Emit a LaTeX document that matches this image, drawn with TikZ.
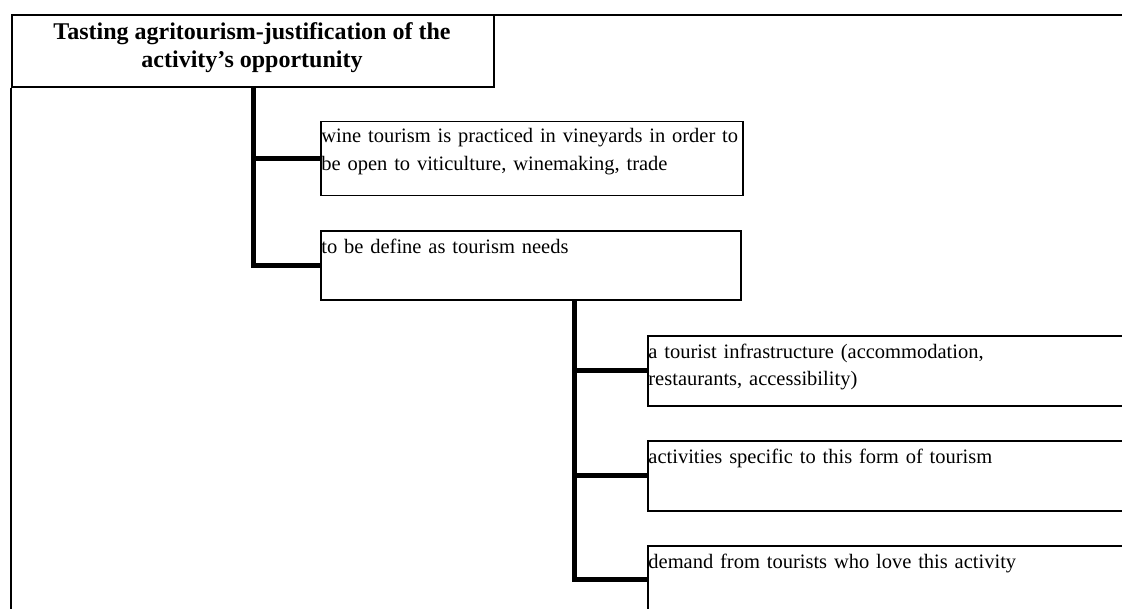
\documentclass[tikz,border=0pt]{standalone}
\usepackage{fontspec}
\setmainfont{Liberation Serif}
\begin{document}
\begin{tikzpicture}[x=0.5pt,y=-0.5pt,
  box/.style={draw, line width=0.75pt, rectangle, inner sep=0pt, anchor=north west},
  txt/.style={anchor=base west, inner sep=0pt, align=left, text width=250pt, font=\fontsize{10.25}{13.5}\selectfont},
  trunk/.style={line width=2.5pt, line join=miter},
  frame/.style={line width=0.75pt}
]
\useasboundingbox (0,0) rectangle (1122,609);
\clip (0,0) rectangle (1122,609);
% boxes
\node[box, line width=1pt, minimum width=241pt, minimum height=36pt] (title) at (11,14) {};
\node[box, minimum width=211pt, minimum height=37pt] (b1) at (320,121) {};
\node[box, minimum width=210pt, minimum height=34.5pt] (b2) at (320,230) {};
\node[box, minimum width=241.5pt, minimum height=35pt] (b3) at (647,335) {};
\node[box, minimum width=241.5pt, minimum height=35pt] (b4) at (647,440) {};
\node[box, minimum width=241.5pt, minimum height=34pt] (b5) at (647,545) {};
% frame
\coordinate (fbl) at (11,615);
\coordinate (ftr) at (1130,15);
\draw[frame] (title.south west) -- (fbl);
\draw[frame] (title.north east |- ftr) -- (ftr);
% texts
\node[anchor=base, align=center, inner sep=0pt, font=\fontsize{12}{14}\selectfont\bfseries] (tt) at (252,68) {Tasting agritourism-justification of the\\activity’s opportunity};
\node[txt] (t1) at (321,143) {wine tourism is practiced in vineyards in order to\\be open to viticulture, winemaking, trade};
\node[txt] (t2) at (321,253) {to be define as tourism needs};
\node[txt] (t3) at (648,358) {a tourist infrastructure (accommodation,\\restaurants, accessibility)};
\node[txt] (t4) at (648,463) {activities specific to this form of tourism};
\node[txt] (t5) at (648,568) {demand from tourists who love this activity};
% connectors
\draw[trunk] (253,0 |- title.south) |- (b2.west);
\draw[trunk] (253,0 |- b1.west) -- (b1.west);
\draw[trunk] (574,0 |- b2.south) |- (b5.west);
\draw[trunk] (574,0 |- b3.west) -- (b3.west);
\draw[trunk] (574,0 |- b4.west) -- (b4.west);
\end{tikzpicture}
\end{document}
